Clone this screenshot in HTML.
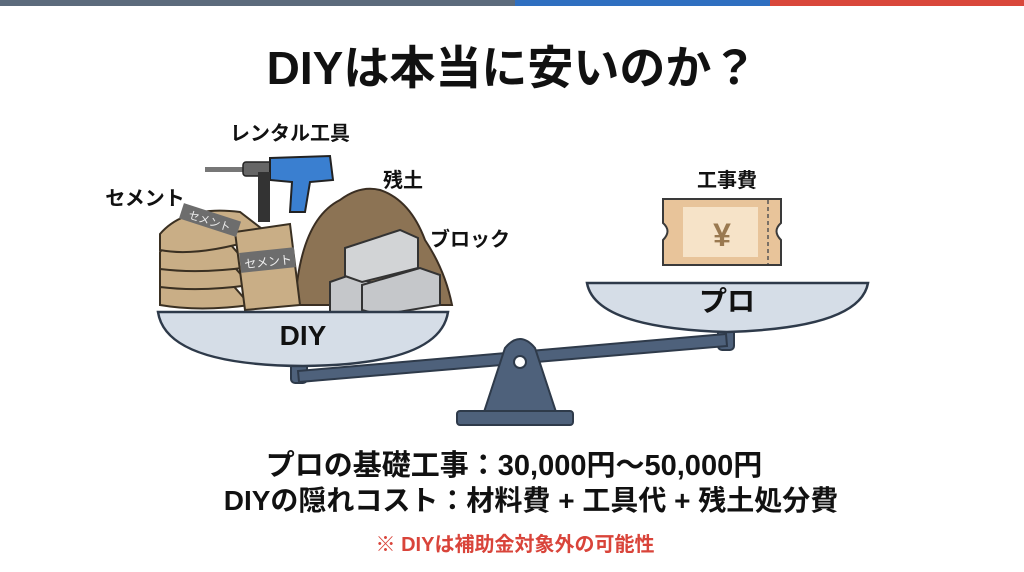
<!DOCTYPE html>
<html><head><meta charset="utf-8"><style>
html,body{margin:0;padding:0;background:#fff}
body{width:1024px;height:572px;overflow:hidden;position:relative;font-family:"Liberation Sans","Noto Sans CJK JP",sans-serif}
</style></head><body>
<svg width="1024" height="572" viewBox="0 0 1024 572" xmlns="http://www.w3.org/2000/svg" style="position:absolute;left:0;top:0">
<rect x="0" y="0" width="515" height="6" fill="#5c6b7c"/>
<rect x="515" y="0" width="255" height="6" fill="#2f6fc0"/>
<rect x="770" y="0" width="254" height="6" fill="#d9473b"/>
<g font-family="Liberation Sans, Noto Sans CJK JP, sans-serif" font-weight="bold" fill="#111">
<text x="512" y="84" font-size="46" text-anchor="middle">DIYは本当に安いのか？</text>
<text x="290" y="140" font-size="20" text-anchor="middle">レンタル工具</text>
<text x="145" y="205" font-size="20" text-anchor="middle">セメント</text>
<text x="403" y="187" font-size="20" text-anchor="middle">残土</text>
<text x="470" y="246" font-size="20" text-anchor="middle">ブロック</text>
<text x="727" y="187" font-size="20" text-anchor="middle">工事費</text>
</g>
<rect x="291" y="355" width="16" height="28" rx="4" fill="#4e617b" stroke="#2e3a4a" stroke-width="2"/>
<rect x="718" y="326" width="16" height="24" rx="4" fill="#4e617b" stroke="#2e3a4a" stroke-width="2"/>
<polygon points="298,371 726,334 727,346 299,382" fill="#4e617b" stroke="#2e3a4a" stroke-width="2"/>
<path d="M484,412 L505,348 Q520,330 535,348 L556,412 Z" fill="#4e617b" stroke="#2e3a4a" stroke-width="2"/>
<circle cx="520" cy="362" r="6" fill="#fff" stroke="#2e3a4a" stroke-width="2"/>
<rect x="457" y="411" width="116" height="14" rx="3" fill="#4e617b" stroke="#2e3a4a" stroke-width="2"/>
<path d="M587,283 L868,283 Q860,328 727,332 Q595,328 587,283 Z" fill="#d5dde7" stroke="#2e3a4a" stroke-width="2.5"/>
<text x="727" y="311" font-size="28" font-weight="bold" text-anchor="middle" fill="#111">プロ</text>
<path d="M663,199 L781,199 L781,223 Q772,231 781,240 L781,265 L663,265 L663,240 Q672,231 663,223 Z" fill="#e8c49a" stroke="#3a3a3a" stroke-width="2"/>
<rect x="683" y="207" width="75" height="50" fill="#f6e3c8"/>
<line x1="768" y1="200" x2="768" y2="264" stroke="#555" stroke-width="1.5" stroke-dasharray="4,3"/>
<text x="722" y="246" font-size="32" font-weight="bold" text-anchor="middle" fill="#9a7950">¥</text>
<rect x="205" y="167" width="40" height="5" fill="#777"/>
<rect x="243" y="162" width="30" height="14" rx="3" fill="#666" stroke="#222" stroke-width="1.5"/>
<path d="M270,158 L330,156 L333,180 L310,182 L305,212 L290,212 L292,182 L270,180 Z" fill="#3a7fd0" stroke="#222" stroke-width="2"/>
<rect x="258" y="172" width="12" height="50" fill="#333"/>
<path d="M295,305 Q300,220 340,200 Q360,185 380,190 Q410,200 425,240 Q445,270 452,305 Z" fill="#8c7354" stroke="#3a2e22" stroke-width="2"/>
<g stroke="#3a3022" stroke-width="2" fill="#c9ae86">
<path d="M160,288 Q170,275 230,282 L250,305 Q200,312 160,305 Z"/>
<path d="M160,270 Q170,256 230,262 L250,285 Q200,292 160,287 Z"/>
<path d="M160,252 Q170,238 230,244 L250,267 Q200,274 160,269 Z"/>
<path d="M160,234 Q185,205 240,212 L270,235 Q200,258 160,250 Z"/>
<path d="M235,232 L290,224 L300,305 L245,310 Z"/>
</g>
<rect x="240" y="250" width="55" height="20" fill="#6d6d6d" transform="rotate(-6 268 260)"/>
<text x="268" y="266" font-size="12" fill="#eee" text-anchor="middle" transform="rotate(-6 268 260)">セメント</text>
<rect x="180" y="212" width="60" height="16" fill="#6d6d6d" transform="rotate(18 210 220)"/>
<text x="210" y="225" font-size="11" fill="#eee" text-anchor="middle" transform="rotate(18 210 220)">セメント</text>
<g stroke="#333" stroke-width="2" fill="#c5c7ca">
<path d="M330,282 L350,275 L370,282 L370,312 L330,312 Z"/>
<path d="M362,285 L420,268 L440,275 L440,305 L380,315 L362,310 Z"/>
<path d="M345,248 L400,230 L418,238 L418,268 L362,282 L345,276 Z" fill="#d2d4d6"/>
</g>
<path d="M158,312 L448,312 Q440,365 303,366 Q166,365 158,312 Z" fill="#d5dde7" stroke="#2e3a4a" stroke-width="2.5"/>
<text x="303" y="345" font-size="28" font-weight="bold" text-anchor="middle" fill="#111">DIY</text>
<g font-family="Liberation Sans, Noto Sans CJK JP, sans-serif" font-weight="bold" fill="#111" text-anchor="middle">
<text x="514" y="475" font-size="29">プロの基礎工事：30,000円〜50,000円</text>
<text x="531" y="510" font-size="28">DIYの隠れコスト：材料費 + 工具代 + 残土処分費</text>
<text x="515" y="551" font-size="20" fill="#d9443a">※ DIYは補助金対象外の可能性</text>
</g>
</svg>
</body></html>
